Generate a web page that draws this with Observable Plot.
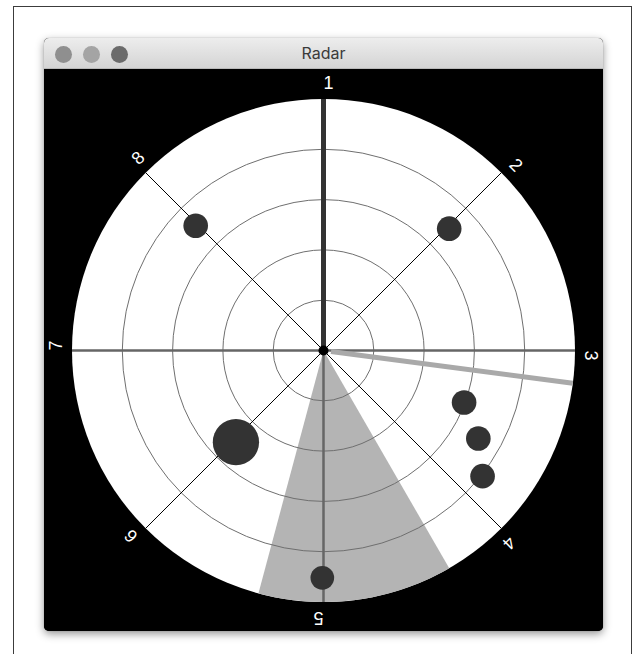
<!DOCTYPE html>
<html>
<head>
<meta charset="utf-8">
<script src="https://cdn.jsdelivr.net/npm/d3@7"></script>
<script src="https://cdn.jsdelivr.net/npm/@observablehq/plot@0.6"></script>
<style>
html,body{margin:0;padding:0;background:#fff;width:637px;height:654px;overflow:hidden;position:relative;font-family:"Liberation Sans",Arial,sans-serif}
#frame{position:absolute;left:13px;top:6px;width:619px;height:700px;border:1.5px solid #3c3c3c;border-bottom:none;box-sizing:border-box}
#win{position:absolute;left:44px;top:38px;width:559px;height:593px;border-radius:5px;box-shadow:0 3px 9px rgba(0,0,0,0.42),0 0 1px rgba(0,0,0,0.4);background:#000;overflow:hidden}
#bar{position:relative;height:31px;box-sizing:border-box;background:linear-gradient(#ededed,#d4d4d4);border-bottom:1px solid #b9b9b9}
#bar .light{position:absolute;top:7.5px;width:17px;height:17px;border-radius:50%}
#bar .title{position:absolute;left:0;right:0;top:0;line-height:31px;text-align:center;font-family:Inter,"Liberation Sans",sans-serif;font-size:16px;color:#3a3a3a}
#chart{position:absolute;left:0;top:31px;width:559px;height:562px}
#chart svg{display:block}
</style>
</head>
<body>
<div id="frame"></div>
<div id="win">
  <div id="bar">
    <div class="light" style="left:11px;background:#8f8f8f"></div>
    <div class="light" style="left:39px;background:#a4a4a4"></div>
    <div class="light" style="left:67px;background:#6b6b6b"></div>
    <div class="title">Radar</div>
  </div>
  <div id="chart"></div>
</div>
<script>
// ---- data ----
const maxRange = 5;
const ringLevels = [1, 2, 3, 4];
const spokeLabels = ["1", "2", "3", "4", "5", "6", "7", "8"];
const spokeBearings = [0, 45, 90, 135, 180, 225, 270, 315];
const blipBearings = [314.3, 45.9, 223.7, 110.3, 119.6, 128.3, 180.3];
const blipRanges = [3.55, 3.48, 2.52, 2.98, 3.54, 4.03, 4.52];
const blipSizes = [0.245, 0.245, 0.46, 0.245, 0.245, 0.245, 0.235];
const handBearing = 0;
const trailBearing = 97.5;
const beamStart = 150;
const beamEnd = 195;
const labelRange = 5.31;

// ---- geometry helpers ----
const k = 50.3;            // pixels per range unit
const W = 559, H = 562, cx = 279, cy = 281;
const rad = b => b * Math.PI / 180;
const px = (b, r) => r * Math.sin(rad(b));
const py = (b, r) => r * Math.cos(rad(b));

const spokes = spokeBearings.map((b, i) => ({b, label: spokeLabels[i], cardinal: b % 90 === 0}));
const blips = blipBearings.map((b, i) => ({b, r: blipRanges[i], s: blipSizes[i]}));
const beam = [{b: 0, r: 0}];
for (let b = beamStart; b <= beamEnd; b += 1) beam.push({b, r: maxRange});

const chart = Plot.plot({
  width: W,
  height: H,
  margin: 0,
  x: {domain: [-cx / k, (W - cx) / k], axis: null},
  y: {domain: [-(H - cy) / k, cy / k], axis: null},
  r: {type: "linear", domain: [0, 1], range: [0, k]},
  style: {background: "black", fontFamily: "'Liberation Sans', Arial, sans-serif"},
  marks: [
    Plot.dot([maxRange], {x: () => 0, y: () => 0, r: d => d, fill: "white", stroke: "none"}),
    Plot.line(beam, {x: d => px(d.b, d.r), y: d => py(d.b, d.r), fill: "#b4b4b4", stroke: "none", curve: "linear-closed"}),
    Plot.dot(ringLevels, {x: () => 0, y: () => 0, r: d => d, fill: "none", stroke: "#6f6f6f", strokeWidth: 1}),
    Plot.link(spokes.filter(d => !d.cardinal), {x1: () => 0, y1: () => 0, x2: d => px(d.b, maxRange), y2: d => py(d.b, maxRange), stroke: "black", strokeWidth: 1}),
    Plot.link(spokes.filter(d => d.cardinal), {x1: () => 0, y1: () => 0, x2: d => px(d.b, maxRange), y2: d => py(d.b, maxRange), stroke: "#666", strokeWidth: 2.5}),
    Plot.dot(blips, {x: d => px(d.b, d.r), y: d => py(d.b, d.r), r: d => d.s, fill: "#333", stroke: "none"}),
    Plot.link([trailBearing], {x1: d => px(d, 0.15), y1: d => py(d, 0.15), x2: d => px(d, maxRange), y2: d => py(d, maxRange), stroke: "#a9a9a9", strokeWidth: 5}),
    Plot.link([handBearing], {x1: () => 0, y1: () => 0, x2: d => px(d, maxRange), y2: d => py(d, maxRange), stroke: "#333", strokeWidth: 5}),
    Plot.dot([0.1], {x: () => 0, y: () => 0, r: d => d, fill: "black", stroke: "none"}),
    Plot.text(spokes, {x: d => px(d.b, labelRange), y: d => py(d.b, labelRange), text: "label", rotate: "b", textAnchor: "start", fill: "white", fontSize: 18})
  ]
});
document.getElementById("chart").appendChild(chart);
</script>
</body>
</html>
